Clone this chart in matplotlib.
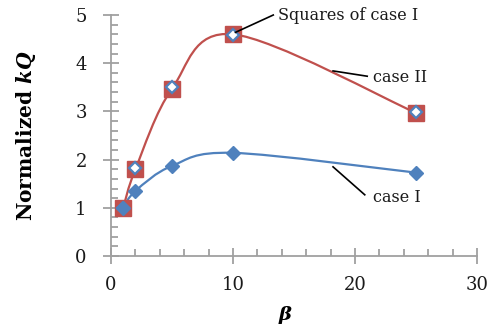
import numpy as np
import matplotlib
matplotlib.use("Agg")
import matplotlib.pyplot as plt
from matplotlib.path import Path
from matplotlib.patches import PathPatch
from matplotlib.ticker import MultipleLocator

beta = [1, 2, 5, 10, 25]
case_1 = [1.0, 1.35, 1.87, 2.14, 1.73]
case_2 = [1.0, 1.80, 3.47, 4.60, 2.97]
case_1_sq = [1.0, 1.82, 3.50, 4.58, 2.99]

red = "#C0504D"
blue = "#4F81BD"
grey = "#A0A0A0"

plt.rcParams["font.family"] = "DejaVu Serif"
plt.rcParams["mathtext.fontset"] = "custom"
plt.rcParams["mathtext.rm"] = "DejaVu Serif:bold"
plt.rcParams["mathtext.it"] = "DejaVu Serif:bold:italic"


def smooth_path(ax, xs, ys, k=1 / 6):
    # Catmull-Rom style bezier through the points, built in screen space
    pts = ax.transData.transform(np.column_stack([xs, ys]))
    n = len(pts)
    verts = [pts[0]]
    codes = [Path.MOVETO]
    for i in range(n - 1):
        p0 = pts[max(i - 1, 0)]
        p1 = pts[i]
        p2 = pts[i + 1]
        p3 = pts[min(i + 2, n - 1)]
        c1 = p1 + (p2 - p0) * k
        c2 = p2 - (p3 - p1) * k
        verts += [c1, c2, p2]
        codes += [Path.CURVE4] * 3
    verts = ax.transData.inverted().transform(np.array(verts))
    return Path(verts, codes)


fig = plt.figure(figsize=(4.96, 3.27), dpi=100)
ax = fig.add_axes([0.2238, 0.2171, 0.9617 - 0.2238, 0.9541 - 0.2171])
ax.set_xlim(0, 30)
ax.set_ylim(0, 5)

ax.add_patch(PathPatch(smooth_path(ax, beta, case_2), fill=False, edgecolor=red, lw=1.6, zorder=2))
ax.add_patch(PathPatch(smooth_path(ax, beta, case_1), fill=False, edgecolor=blue, lw=1.6, zorder=2))

ax.plot(beta, case_2, ls="none", marker="s", ms=12, mfc=red, mec=red, zorder=3)
ax.plot(beta, case_1_sq, ls="none", marker="D", ms=6.3, mfc="white", mec=blue, mew=1.6, zorder=4)
ax.plot(beta, case_1, ls="none", marker="D", ms=7, mfc=blue, mec=blue, zorder=4)

for s in ["top", "right"]:
    ax.spines[s].set_visible(False)
for s in ["left", "bottom"]:
    ax.spines[s].set_color(grey)
    ax.spines[s].set_linewidth(1.3)

ax.xaxis.set_major_locator(MultipleLocator(10))
ax.xaxis.set_minor_locator(MultipleLocator(2))
ax.yaxis.set_major_locator(MultipleLocator(1))
ax.yaxis.set_minor_locator(MultipleLocator(0.2))
ax.tick_params(which="major", direction="inout", length=11, width=1.3, color=grey,
               labelsize=13, labelcolor="#1a1a1a")
ax.tick_params(which="minor", direction="in", length=5, width=1.3, color=grey)
ax.tick_params(axis="y", which="major", pad=12)
ax.tick_params(axis="x", which="major", pad=9)

ax.set_xlabel(r"$\beta$", fontsize=14, labelpad=1)
ax.xaxis.set_label_coords(0.478, -0.2)
ax.set_ylabel(r"Normalized $kQ$", fontsize=14.5, fontweight="bold", labelpad=27)

# callout lines with their labels
callouts = [
    ("Squares of case I", (10.2, 4.64), (13.3, 5.0), (13.7, 5.0)),
    ("case II", (18.2, 3.84), (21.0, 3.73), (21.5, 3.71)),
    ("case I", (18.2, 1.85), (20.8, 1.27), (21.5, 1.22)),
]
for label, (x0, y0), (x1, y1), (tx, ty) in callouts:
    ax.plot([x0, x1], [y0, y1], color="black", lw=1.2, zorder=5, clip_on=False)
    ax.text(tx, ty, label, fontsize=11.5, color="#1a1a1a", va="center", ha="left")

fig.savefig("out.png", dpi=100)
